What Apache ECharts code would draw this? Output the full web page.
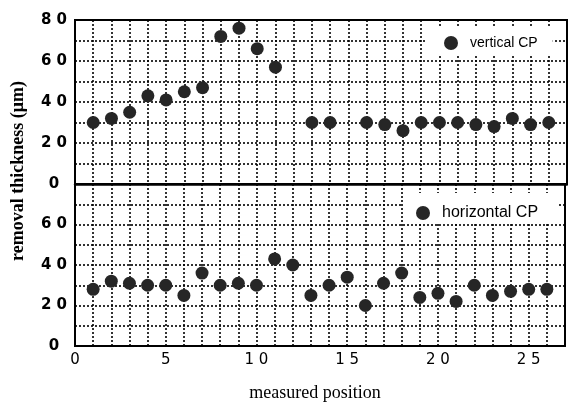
<!DOCTYPE html>
<html>
<head>
<meta charset="utf-8">
<script src="https://cdn.jsdelivr.net/npm/echarts@6/dist/echarts.min.js"></script>
<style>
html,body{margin:0;padding:0;background:#fff;}
#c{width:568px;height:404px;}
</style>
</head>
<body>
<div id="c"></div>
<script>
// measured positions
var positionsVertical = [1,2,3,4,5,6,7,8,9,10,11,13,14,16,17,18,19,20,21,22,23,24,25,26];
var valuesVertical    = [30,32,35,43,41,45,47,72,76,66,57,30,30,30,29,26,30,30,30,29,28,32,29,30];
var positionsHorizontal = [1,2,3,4,5,6,7,8,9,10,11,12,13,14,15,16,17,18,19,20,21,22,23,24,25,26];
var valuesHorizontal    = [28,32,31,30,30,25,36,30,31,30,43,40,25,30,34,20,31,36,24,26,22,30,25,27,28,28];
var seriesNames = ['vertical CP', 'horizontal CP'];
var xTickLabels = [0,5,10,15,20,25];
var yTickLabels = [0,20,40,60,80];

function spaced(v){ return String(v).split('').join(' '); }
function pairs(xs, ys){ return xs.map(function(x,i){ return [x, ys[i]]; }); }

var dotted = {show:true, lineStyle:{color:'#000', type:[2,2], width:1.6}};
var mark = '#262626';

var chart = echarts.init(document.getElementById('c'), null, {renderer:'canvas'});
chart.setOption({
  animation:false,
  backgroundColor:'#fff',
  grid:[
    {left:75, top:20, width:492, height:164, show:true, borderColor:'#000', borderWidth:2, backgroundColor:'transparent'},
    {left:75, top:184, width:492, height:162, show:true, borderColor:'#000', borderWidth:2, backgroundColor:'transparent'}
  ],
  xAxis:[
    {type:'value', gridIndex:0, min:0, max:27, interval:1,
     axisLine:{show:true, lineStyle:{color:'#000', width:2.5}}, axisTick:{show:false}, axisLabel:{show:false},
     splitLine:dotted},
    {type:'value', gridIndex:1, min:0, max:27, interval:1,
     axisLine:{show:true, lineStyle:{color:'#000', width:2}}, axisTick:{show:false},
     axisLabel:{show:true, color:'#000', fontFamily:'DejaVu Sans', fontSize:15, margin:7,
       formatter:function(v){ return xTickLabels.indexOf(v) >= 0 ? spaced(v) : ''; }},
     splitLine:dotted}
  ],
  yAxis:[
    {type:'value', gridIndex:0, min:0, max:80, interval:10,
     axisLine:{show:true, lineStyle:{color:'#000', width:2}}, axisTick:{show:false},
     axisLabel:{show:true, color:'#000', fontFamily:'DejaVu Sans', fontWeight:'bold', fontSize:15, margin:21, align:'center',
       formatter:function(v){ return yTickLabels.indexOf(v) >= 0 ? spaced(v) : ''; }},
     splitLine:dotted},
    {type:'value', gridIndex:1, min:0, max:80, interval:10,
     axisLine:{show:true, lineStyle:{color:'#000', width:2}}, axisTick:{show:false},
     axisLabel:{show:true, color:'#000', fontFamily:'DejaVu Sans', fontWeight:'bold', fontSize:15, margin:21, align:'center',
       formatter:function(v){ return (yTickLabels.indexOf(v) >= 0 && v !== 80) ? spaced(v) : ''; }},
     splitLine:dotted}
  ],
  legend:[
    {data:[seriesNames[0]], left:427, top:27, orient:'vertical', backgroundColor:'#fff',
     padding:[9,15,6,17], itemWidth:14, itemHeight:14, icon:'circle',
     textStyle:{color:'#000', fontFamily:'Liberation Sans', fontSize:14, padding:[0,0,0,7]}},
    {data:[seriesNames[1]], left:403, top:193, orient:'vertical', backgroundColor:'#fff',
     padding:[12,20,3,13], itemWidth:14, itemHeight:14, icon:'circle',
     textStyle:{color:'#000', fontFamily:'Liberation Sans', fontSize:16, padding:[0,0,0,7]}}
  ],
  graphic:[
    {type:'text', x:18, y:171, rotation:Math.PI/2, style:{text:'removal thickness (μm)', fill:'#000',
      font:'bold 18px "Liberation Serif"', textAlign:'center', textVerticalAlign:'middle'}},
    {type:'text', x:315, y:393, style:{text:'measured position', fill:'#000',
      font:'18px "Liberation Serif"', textAlign:'center', textVerticalAlign:'middle'}}
  ],
  series:[
    {name:seriesNames[0], type:'scatter', xAxisIndex:0, yAxisIndex:0, symbolSize:13,
     itemStyle:{color:mark, opacity:1}, data:pairs(positionsVertical, valuesVertical)},
    {name:seriesNames[1], type:'scatter', xAxisIndex:1, yAxisIndex:1, symbolSize:13,
     itemStyle:{color:mark, opacity:1}, data:pairs(positionsHorizontal, valuesHorizontal)}
  ]
});
</script>
</body>
</html>
